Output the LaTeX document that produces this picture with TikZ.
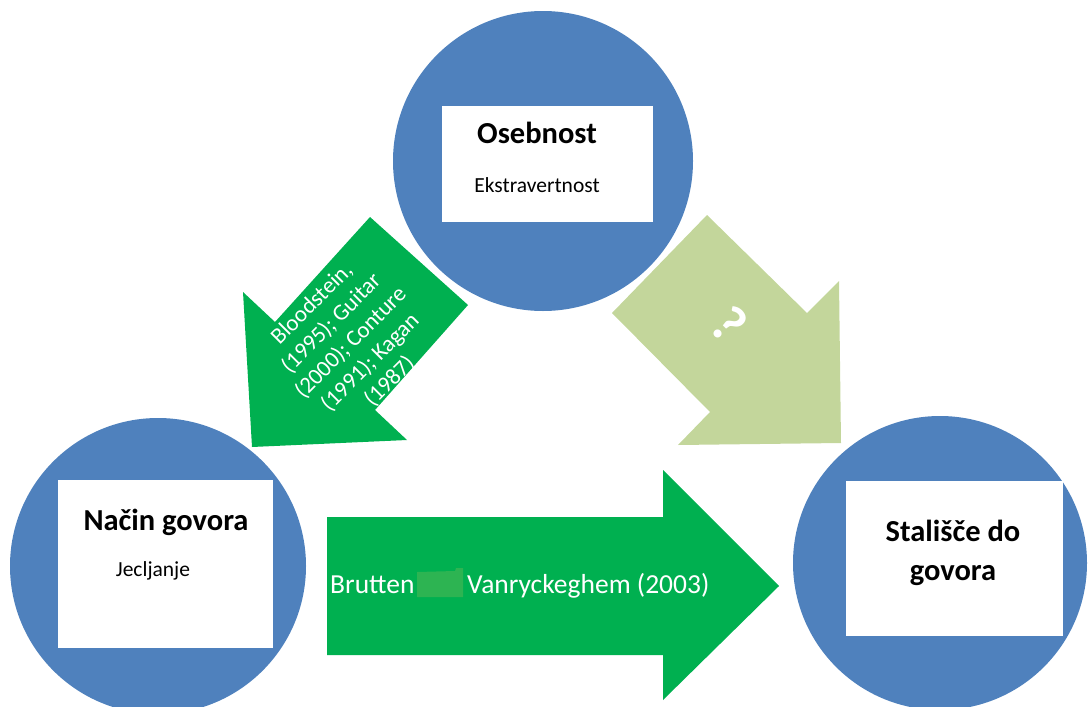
\documentclass[tikz,border=0pt]{standalone}
\usepackage{fontspec}
\setmainfont{Carlito}
\usetikzlibrary{positioning}
\definecolor{krogmodra}{HTML}{4F81BD}
\definecolor{puscazelena}{HTML}{00B050}
\definecolor{puscasvetla}{HTML}{C3D69B}
\definecolor{madez}{HTML}{2DB452}
\tikzset{
  krog/.style={circle, fill=krogmodra, minimum size=#1, inner sep=0pt},
  okvir/.style={fill=white, inner sep=0pt},
  naslov/.style={font=\fontsize{30.5}{39}\selectfont\bfseries},
  podnaslov/.style={font=\fontsize{21.5}{25}\selectfont},
  oznaka/.style={text=white, font=\fontsize{27.5}{32}\selectfont}
}

\begin{document}
\begin{tikzpicture}[x=1pt,y=-1pt]
  \useasboundingbox (0,0) rectangle (1090,707);
  \clip (0,0) rectangle (1090,707);
  % krogi
  \node[krog=300pt] (osebnost) at (543,161) {};
  \node[krog=296pt] (nacin) at (158,566) {};
  \node[krog=294pt] (stalisce) at (940,563) {};
  % okvirji z besedilom
  \node[okvir, minimum width=211pt, minimum height=116pt] (okoseb) at (547.5,164) {};
  \node[okvir, minimum width=215pt, minimum height=168pt] (oknacin) at (165.5,564) {};
  \node[okvir, minimum width=217pt, minimum height=155pt] (okstal) at (954.5,558.5) {};
  \node[naslov] (tosebnost) at (537,133) {Osebnost};
  \node[podnaslov] (tekstra) at (537,185) {Ekstravertnost};
  \node[naslov] (tnacin) at (166,522) {Način govora};
  \node[podnaslov] (tjeclj) at (153,571) {Jecljanje};
  \node[naslov, align=center] (tstal) at (953,553) {Stališče do\\govora};
  % pusce
  \fill[puscazelena] (370,217) -- (468,305) -- (375,410) -- (407,440) -- (252,447)
    -- (243,292) -- (275,322) -- cycle;
  \node[oznaka, font=\fontsize{23}{27.5}\selectfont, align=center, rotate=45] (tlevo)
    at (351,343) {Bloodstein,\\(1995); Guitar\\(2000); Conture\\(1991); Kagan\\(1987)};
  \fill[puscasvetla] (707,215) -- (807,313) -- (839,281) -- (841,443) -- (678,445)
    -- (710,412) -- (612,313) -- cycle;
  \node[text=white, font=\fontsize{54}{58}\selectfont\bfseries, rotate=-45] (tvpr)
    at (729,324) {?};
  \fill[puscazelena] (327,517) -- (663,517) -- (663,470) -- (779,586) -- (663,700)
    -- (663,655) -- (327,655) -- cycle;
  \fill[madez] (417,572) -- (455,571) -- (456,568) -- (463,568) -- (463,597) -- (417,597) -- cycle;
  \node[oznaka, anchor=base west, inner sep=0pt] (tbrutten) at (330,593) {Brutten};
  \node[oznaka, anchor=base west, inner sep=0pt] (tvanry) at (467,593) {Vanryckeghem (2003)};
\end{tikzpicture}
\end{document}
